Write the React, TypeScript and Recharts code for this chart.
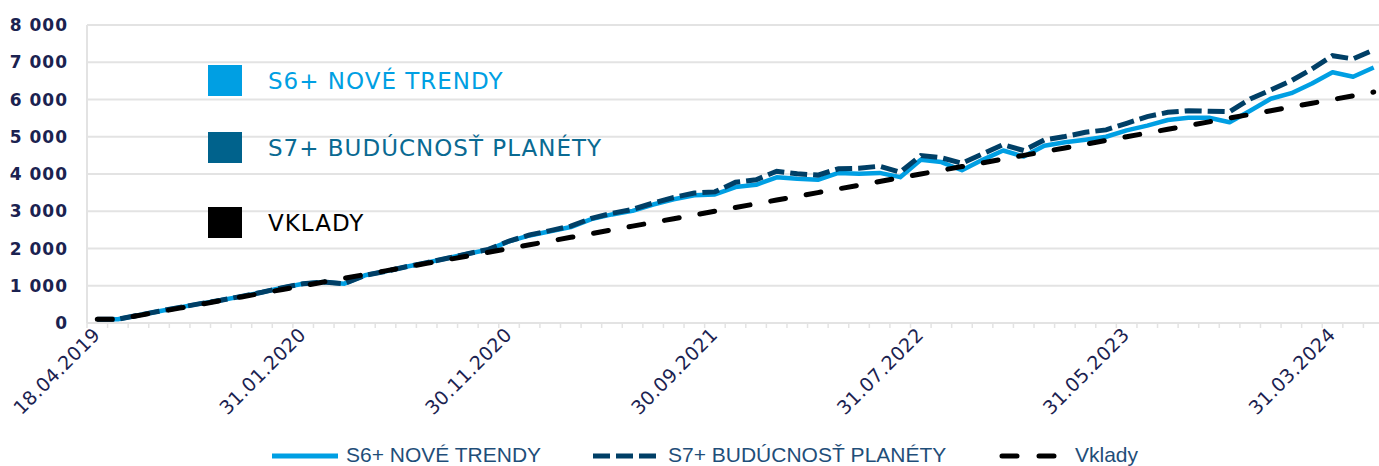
import React from 'react';
import { LineChart, Line, XAxis, YAxis, CartesianGrid } from 'recharts';

// month-end valuation dates (first one is the fund start)
const dates = [
  '18.04.2019', '30.04.2019', '31.05.2019', '30.06.2019', '31.07.2019', '31.08.2019', '30.09.2019', '31.10.2019', '30.11.2019', '31.12.2019',
  '31.01.2020', '29.02.2020', '31.03.2020', '30.04.2020', '31.05.2020', '30.06.2020', '31.07.2020', '31.08.2020', '30.09.2020', '31.10.2020',
  '30.11.2020', '31.12.2020', '31.01.2021', '28.02.2021', '31.03.2021', '30.04.2021', '31.05.2021', '30.06.2021', '31.07.2021', '31.08.2021',
  '30.09.2021', '31.10.2021', '30.11.2021', '31.12.2021', '31.01.2022', '28.02.2022', '31.03.2022', '30.04.2022', '31.05.2022', '30.06.2022',
  '31.07.2022', '31.08.2022', '30.09.2022', '31.10.2022', '30.11.2022', '31.12.2022', '31.01.2023', '28.02.2023', '31.03.2023', '30.04.2023',
  '31.05.2023', '30.06.2023', '31.07.2023', '31.08.2023', '30.09.2023', '31.10.2023', '30.11.2023', '31.12.2023', '31.01.2024', '29.02.2024',
  '31.03.2024', '30.04.2024', '31.05.2024',
];

const s6NoveTrendy = [
  100, 100, 210, 315, 420, 520, 610, 715, 825, 950,
  1055, 1100, 1055, 1280, 1385, 1510, 1620, 1740, 1860, 1970,
  2190, 2350, 2465, 2575, 2790, 2915, 3010, 3180, 3320, 3430,
  3450, 3650, 3710, 3910, 3870, 3845, 4030, 4005, 4030, 3915,
  4380, 4320, 4100, 4380, 4630, 4470, 4760, 4850, 4920, 5000,
  5170, 5300, 5450, 5510, 5510, 5390, 5700, 6020, 6170, 6430,
  6730, 6610, 6860,
];

const s7BuducnostPlanety = [
  100, 100, 210, 315, 420, 520, 610, 715, 825, 950,
  1055, 1100, 1055, 1280, 1385, 1510, 1620, 1740, 1860, 1975,
  2200, 2365, 2480, 2600, 2810, 2945, 3050, 3220, 3370, 3490,
  3520, 3780, 3845, 4075, 4005, 3970, 4140, 4155, 4210, 4050,
  4495, 4435, 4290, 4540, 4790, 4630, 4915, 5005, 5120, 5185,
  5360, 5540, 5655, 5700, 5685, 5675, 6015, 6255, 6505, 6820,
  7175, 7090, 7330,
];

const vklady = [
  100, 100, 200, 300, 400, 500, 600, 700, 800, 900,
  1000, 1100, 1200, 1300, 1400, 1500, 1600, 1700, 1800, 1900,
  2000, 2100, 2200, 2300, 2400, 2500, 2600, 2700, 2800, 2900,
  3000, 3100, 3200, 3300, 3400, 3500, 3600, 3700, 3800, 3900,
  4000, 4100, 4200, 4300, 4400, 4500, 4600, 4700, 4800, 4900,
  5000, 5100, 5200, 5300, 5400, 5500, 5600, 5700, 5800, 5900,
  6000, 6100, 6200,
];

const yTicks = [0, 1000, 2000, 3000, 4000, 5000, 6000, 7000, 8000];

const data = dates.map((d, i) => ({
  date: d,
  s6: s6NoveTrendy[i],
  s7: s7BuducnostPlanety[i],
  vklady: vklady[i],
}));

const CHART_W = 1384;
const CHART_H = 466;
const Y_AXIS_W = 87;
const PLOT_W = CHART_W - Y_AXIS_W;
const NAVY = '#1b2250';
const GRID = '#e3e3e3';

const C_S6 = '#009fe3';
const C_S7 = '#003f66';
const C_VKL = '#000000';

const fmtThousands = (v: number) => String(v).replace(/\B(?=(\d{3})+(?!\d))/g, ' ');

const DateTick = (props: any) => {
  const { x, y, index, payload } = props;
  const band = PLOT_W / dates.length;
  const bx = x - band / 2;
  const lx = x + 4;
  const ly = y + 13;
  return (
    <g>
      <line x1={bx} x2={bx} y1={y} y2={y + 5} stroke={GRID} strokeWidth={1.5} />
      {index % 10 === 0 && (
        <text
          x={lx}
          y={ly}
          transform={`rotate(-45, ${lx}, ${ly})`}
          textAnchor="end"
          fill={NAVY}
          fontSize={19}
          letterSpacing={0.4}
          fontFamily="DejaVu Sans"
        >
          {payload.value}
        </text>
      )}
    </g>
  );
};

const insideLegend = [
  { label: 'S6+ NOVÉ TRENDY', color: C_S6, textColor: C_S6, top: 65 },
  { label: 'S7+ BUDÚCNOSŤ PLANÉTY', color: '#00628c', textColor: '#0a6a92', top: 132 },
  { label: 'VKLADY', color: '#000', textColor: '#000', top: 207 },
];

const InsideLegend = () => (
  <>
    {insideLegend.map((it) => (
      <div key={it.label} style={{ position: 'absolute', left: 208, top: it.top, height: 31, display: 'flex', alignItems: 'center' }}>
        <div style={{ width: 34, height: 31, background: it.color }} />
        <span
          style={{
            marginLeft: 26,
            fontFamily: 'DejaVu Sans',
            fontSize: 23,
            letterSpacing: 1,
            color: it.textColor,
            whiteSpace: 'nowrap',
          }}
        >
          {it.label}
        </span>
      </div>
    ))}
  </>
);

const BottomLegend = () => {
  const text = { fontFamily: 'Liberation Sans', fontSize: 21, lineHeight: '23px', color: '#1f4e79', whiteSpace: 'nowrap' as const };
  return (
    <div style={{ position: 'absolute', left: 0, top: 442, width: 1379, height: 24 }}>
      <svg style={{ position: 'absolute', left: 0, top: 0 }} width={1379} height={24}>
        <line x1={272} x2={338} y1={14} y2={14} stroke={C_S6} strokeWidth={5} />
        <line x1={593} x2={660} y1={14} y2={14} stroke={C_S7} strokeWidth={5} strokeDasharray="17 6" />
        <line x1={1002} x2={1055} y1={14} y2={14} stroke={C_VKL} strokeWidth={5} strokeDasharray="15 22" strokeLinecap="round" />
      </svg>
      <span style={{ ...text, position: 'absolute', left: 346, top: 1 }}>S6+ NOVÉ TRENDY</span>
      <span style={{ ...text, position: 'absolute', left: 668, top: 1 }}>S7+ BUDÚCNOSŤ PLANÉTY</span>
      <span style={{ ...text, position: 'absolute', left: 1075, top: 1 }}>Vklady</span>
    </div>
  );
};

export default function App() {
  return (
    <div style={{ position: 'absolute', left: 0, top: 0, width: 1379, height: 466, overflow: 'hidden', background: '#fff' }}>
      <LineChart width={CHART_W} height={CHART_H} data={data} margin={{ top: 25, right: 0, left: 0, bottom: 0 }}>
        <CartesianGrid vertical={false} stroke={GRID} strokeWidth={2} />
        <XAxis
          dataKey="date"
          scale="band"
          interval={0}
          height={CHART_H - 323}
          tickSize={0}
          tickMargin={0}
          tickLine={false}
          axisLine={{ stroke: GRID, strokeWidth: 2 }}
          tick={<DateTick />}
        />
        <YAxis
          width={Y_AXIS_W}
          domain={[0, 8000]}
          ticks={yTicks}
          interval={0}
          tickFormatter={fmtThousands}
          axisLine={{ stroke: GRID, strokeWidth: 2 }}
          tickLine={false}
          tickSize={6}
          tickMargin={13}
          tick={{ fill: NAVY, fontSize: 17, fontWeight: 700, fontFamily: 'DejaVu Sans', letterSpacing: 1 }}
        />
        <Line dataKey="s6" type="linear" stroke={C_S6} strokeWidth={4.5} dot={false} activeDot={false} isAnimationActive={false} strokeLinejoin="round" />
        <Line dataKey="s7" type="linear" stroke={C_S7} strokeWidth={5} strokeDasharray="17 6" dot={false} activeDot={false} isAnimationActive={false} />
        <Line dataKey="vklady" type="linear" stroke={C_VKL} strokeWidth={5} strokeDasharray="15 21" strokeLinecap="round" dot={false} activeDot={false} isAnimationActive={false} />
      </LineChart>
      <InsideLegend />
      <BottomLegend />
    </div>
  );
}
